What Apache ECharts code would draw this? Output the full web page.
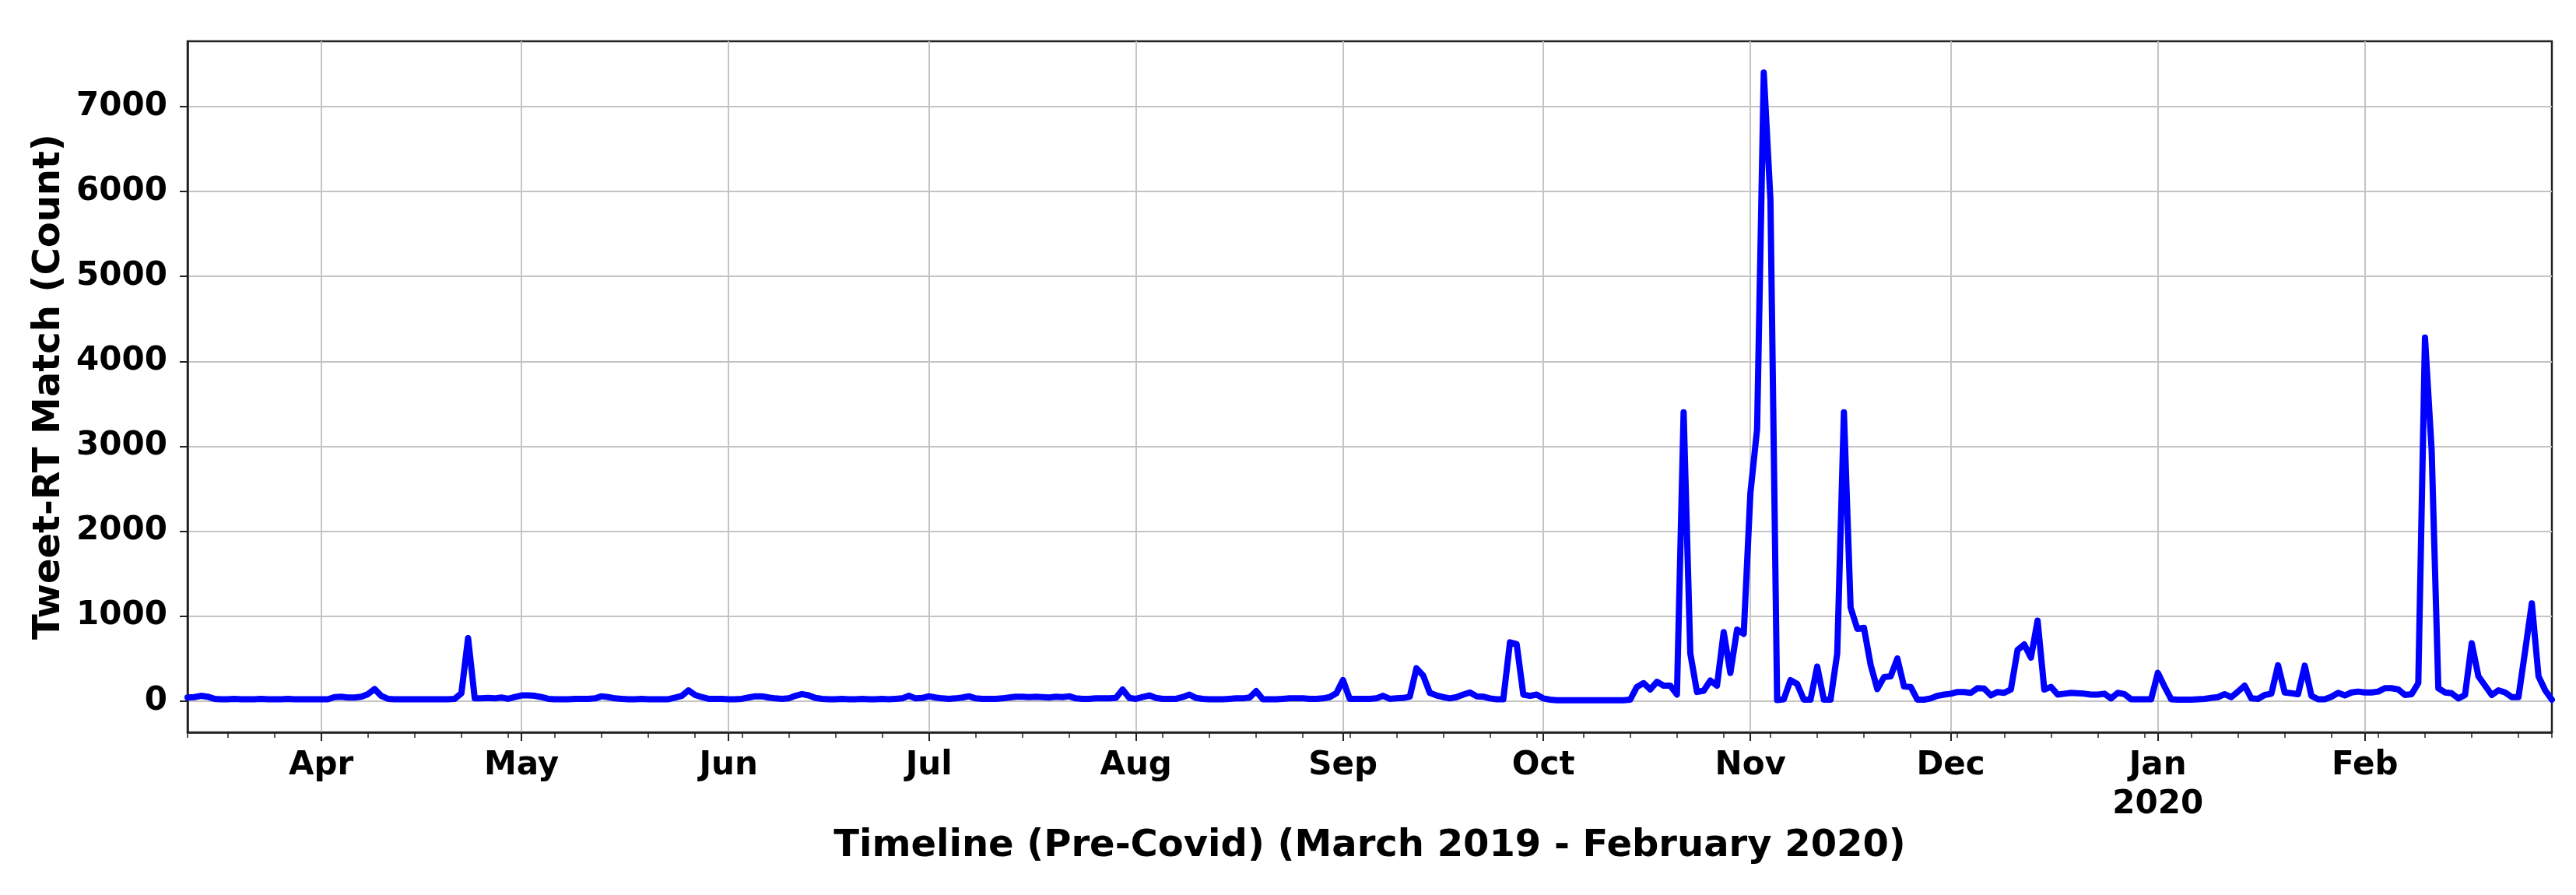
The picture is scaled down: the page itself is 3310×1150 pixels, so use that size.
<!DOCTYPE html>
<html><head><meta charset="utf-8">
<script src="https://cdn.jsdelivr.net/npm/echarts@6/dist/echarts.min.js"></script>
<style>html,body{margin:0;padding:0;background:#fff}#c{width:3310px;height:1150px}</style>
</head><body><div id="c"></div>
<script>
// ---- Data: daily Tweet-RT match counts, 12 Mar 2019 - 29 Feb 2020 ----
const mar2019 = [40,45,60,50,25,20,20,25,20,20,20,25,20,20,20,25,20,20,20,20]; // starts 12 Mar
const apr2019 = [20,20,45,50,40,40,50,80,140,60,25,20,20,20,20,20,20,20,20,20,25,90,740,30,30,35,30,40,25,45];
const may2019 = [65,65,60,45,25,20,20,20,25,25,25,30,55,45,30,25,20,20,25,20,20,20,20,40,60,125,70,45,25,25,25];
const jun2019 = [20,20,25,40,55,55,40,30,25,30,60,80,65,35,25,20,20,25,20,20,25,20,20,25,20,25,30,60,30,35];
const jul2019 = [55,40,30,25,30,40,55,30,25,25,25,30,40,50,50,45,50,45,40,50,45,55,30,25,25,30,30,30,35,135,35];
const aug2019 = [25,45,65,35,25,25,25,45,75,35,25,20,20,20,25,30,30,40,115,20,20,20,25,30,30,30,25,25,30,45,90];
const sep2019 = [245,25,25,25,25,30,60,25,30,35,50,385,300,95,65,45,30,45,75,100,55,50,30,20,20,690,670,75,60,75];
const oct2019 = [30,15,8,8,8,8,8,8,8,8,8,8,8,15,165,210,135,225,180,180,75,3400,560,105,120,240,180,810,330,840,790];
const nov2019 = [2450,3200,7400,5900,10,20,245,200,15,15,405,15,15,560,3400,1100,850,860,425,140,280,290,500,170,165,15,15,30,60,75];
const dec2019 = [85,105,105,95,150,145,65,105,95,135,600,665,510,945,135,165,75,85,95,90,85,75,75,85,30,95,80,20,20,20,20];
const jan2020 = [330,170,20,15,15,15,20,25,35,45,80,45,110,180,30,25,70,85,420,100,90,80,415,60,20,20,50,95,65,100,110];
const feb2020 = [100,100,110,150,150,135,70,80,210,4280,2950,150,100,90,30,70,680,290,180,70,125,100,45,45,590,1150,290,125,15];

const monthBlocks = [
  [2019, 3, 12, mar2019], [2019, 4, 1, apr2019], [2019, 5, 1, may2019], [2019, 6, 1, jun2019],
  [2019, 7, 1, jul2019], [2019, 8, 1, aug2019], [2019, 9, 1, sep2019], [2019, 10, 1, oct2019],
  [2019, 11, 1, nov2019], [2019, 12, 1, dec2019], [2020, 1, 1, jan2020], [2020, 2, 1, feb2020]
];

// Tick labels
const monthTicks = ['2019-04-01','2019-05-01','2019-06-01','2019-07-01','2019-08-01','2019-09-01','2019-10-01','2019-11-01','2019-12-01','2020-01-01','2020-02-01'];
const monthLabels = ['Apr','May','Jun','Jul','Aug','Sep','Oct','Nov','Dec','Jan\n2020','Feb'];
const yTicks = [0,1000,2000,3000,4000,5000,6000,7000];

const xTitle = 'Timeline (Pre-Covid) (March 2019 - February 2020)';
const yTitle = 'Tweet-RT Match (Count)';

// ---- Build ----
const DAY = 86400000;
const ts = (y, m, d) => Date.UTC(y, m - 1, d);
const parse = s => { const p = s.split('-').map(Number); return ts(p[0], p[1], p[2]); };
const seriesData = [];
monthBlocks.forEach(([y, m, d0, arr]) => {
  arr.forEach((v, i) => seriesData.push([ts(y, m, d0 + i), v]));
});
const xMin = ts(2019, 3, 12);
const xMax = ts(2020, 2, 29);
const monthTs = monthTicks.map(parse);
const weekTs = [xMin];
for (let t = ts(2019, 3, 18); t <= xMax; t += 7 * DAY) weekTs.push(t);
weekTs.push(xMax);

const FONT = 'DejaVu Sans';
const chart = echarts.init(document.getElementById('c'), null, {renderer: 'canvas'});
chart.setOption({
  animation: false,
  backgroundColor: '#ffffff',
  grid: {left: 241, right: 31, top: 53, bottom: 209, show: true, borderColor: '#222222', borderWidth: 2.5, backgroundColor: 'transparent'},
  xAxis: [{
    type: 'value', min: xMin, max: xMax, scale: true,
    name: xTitle, nameLocation: 'middle', nameGap: 118,
    nameTextStyle: {fontFamily: FONT, fontWeight: 'bold', fontSize: 48, color: '#000'},
    axisLine: {show: true, onZero: false, lineStyle: {color: '#222', width: 2.5}},
    axisTick: {show: true, length: 11, customValues: monthTs, lineStyle: {color: '#222', width: 2}},
    axisLabel: {show: true, customValues: monthTs, margin: 18, fontFamily: FONT, fontWeight: 'bold', fontSize: 42, color: '#000', lineHeight: 50,
      formatter: v => { const i = monthTs.indexOf(v); return i >= 0 ? monthLabels[i] : ''; }},
    splitLine: {show: true, lineStyle: {color: '#c4c4c4', width: 2}}
  }, {
    type: 'value', min: xMin, max: xMax, scale: true, position: 'bottom', gridIndex: 0,
    axisLine: {show: false, onZero: false},
    axisTick: {show: true, length: 7, customValues: weekTs, lineStyle: {color: '#222', width: 1.5}},
    axisLabel: {show: false},
    splitLine: {show: false}
  }],
  yAxis: {
    type: 'value', min: -370, max: 7770,
    name: yTitle, nameLocation: 'middle', nameGap: 148,
    nameTextStyle: {fontFamily: FONT, fontWeight: 'bold', fontSize: 48, color: '#000'},
    axisLine: {show: true, onZero: false, lineStyle: {color: '#222', width: 2.5}},
    axisTick: {show: true, length: 10, customValues: yTicks, lineStyle: {color: '#222', width: 2}},
    axisLabel: {show: true, customValues: yTicks, margin: 26, fontFamily: FONT, fontWeight: 'bold', fontSize: 42, color: '#000',
      formatter: v => String(v)},
    splitLine: {show: true, lineStyle: {color: '#c4c4c4', width: 2}}
  },
  series: [{
    type: 'line', xAxisIndex: 0, data: seriesData, showSymbol: false, symbol: 'none',
    lineStyle: {color: '#0000ff', width: 8, join: 'round', cap: 'round'},
    z: 5
  }]
});
</script></body></html>
